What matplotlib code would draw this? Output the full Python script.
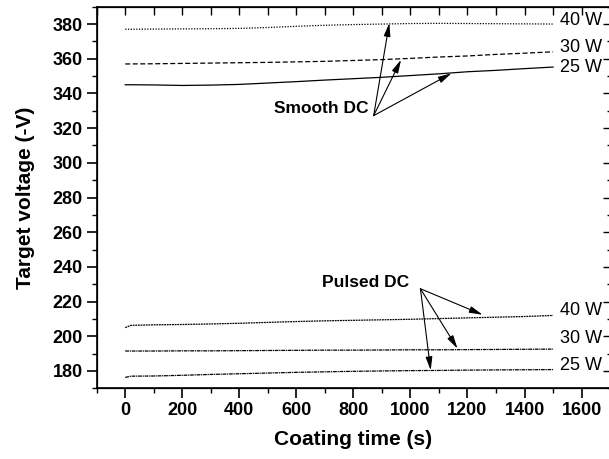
import matplotlib
matplotlib.use("Agg")
import matplotlib.pyplot as plt
from matplotlib.ticker import MultipleLocator

plt.rcParams['font.family'] = ['Liberation Sans', 'DejaVu Sans']

# coating time (s)
time = [0, 20, 100, 200, 300, 400, 500, 600, 700, 800, 900, 1000, 1100, 1200, 1300, 1400, 1500]

# smooth DC target voltage (-V)
smooth_40w = [377.0, 377.0, 377.1, 377.2, 377.3, 377.5, 378.0, 378.7, 379.3, 379.7, 380.0, 380.3, 380.4, 380.3, 380.2, 380.1, 380.0]
smooth_30w = [357.0, 357.0, 357.1, 357.3, 357.5, 357.7, 357.9, 358.2, 358.5, 359.0, 359.5, 360.2, 361.0, 361.6, 362.5, 363.2, 364.0]
smooth_25w = [345.0, 345.0, 344.9, 344.6, 344.8, 345.2, 346.0, 346.8, 347.7, 348.5, 349.3, 350.3, 351.3, 352.5, 353.3, 354.3, 355.2]

# pulsed DC target voltage (-V)
pulsed_40w = [205.0, 206.3, 206.6, 206.8, 207.1, 207.5, 208.0, 208.5, 208.9, 209.2, 209.5, 209.8, 210.2, 210.6, 211.0, 211.4, 212.0]
pulsed_30w = [191.5, 191.5, 191.5, 191.6, 191.6, 191.7, 191.8, 191.9, 192.0, 192.0, 192.1, 192.2, 192.2, 192.3, 192.4, 192.5, 192.6]
pulsed_25w = [176.3, 177.0, 177.1, 177.5, 178.0, 178.4, 178.8, 179.2, 179.5, 179.8, 180.0, 180.2, 180.3, 180.5, 180.6, 180.7, 180.8]

power_labels = ['40 W', '30 W', '25 W']

fig = plt.figure(figsize=(6.09, 4.59), dpi=100)
ax = fig.add_axes([0.1588, 0.154, 0.843, 0.8314])

lw = 0.9
ax.plot(time, smooth_40w, color='black', lw=lw, linestyle=(0, (1, 1.2)))
ax.plot(time, smooth_30w, color='black', lw=lw, linestyle=(0, (4, 2)))
ax.plot(time, smooth_25w, color='black', lw=lw, linestyle='-')
ax.plot(time, pulsed_40w, color='black', lw=lw, linestyle=(0, (1.5, 0.6)))
ax.plot(time, pulsed_30w, color='black', lw=lw, linestyle=(0, (3, 0.6, 1, 0.6)))
ax.plot(time, pulsed_25w, color='black', lw=lw, linestyle=(0, (3, 0.6, 1, 0.6)))

# power labels at line ends
for lab, y in zip(power_labels, [381.9, 366.6, 355.0]):
    ax.text(1525, y, lab, fontsize=13, va='center', ha='left')
for lab, y in zip(power_labels, [214.9, 198.6, 183.3]):
    ax.text(1525, y, lab, fontsize=13, va='center', ha='left')

# annotations
ax.text(853, 331.6, 'Smooth DC', fontsize=12.5, fontweight='bold', ha='right', va='center')
ax.text(995, 231.0, 'Pulsed DC', fontsize=12.5, fontweight='bold', ha='right', va='center')
arrow = dict(arrowstyle='-|>,head_length=0.8,head_width=0.2', color='black', lw=0.8, shrinkA=0, shrinkB=0)
for tip in [(926, 380.6), (967, 359.4), (1144, 351.6)]:
    ax.annotate('', xy=tip, xytext=(871, 327.2), arrowprops=arrow)
for tip in [(1253, 212.4), (1165, 192.9), (1071, 180.4)]:
    ax.annotate('', xy=tip, xytext=(1035, 227.4), arrowprops=arrow)

ax.set_xlim(-100, 1700)
ax.set_ylim(170, 390)
ax.xaxis.set_minor_locator(MultipleLocator(100))
ax.yaxis.set_minor_locator(MultipleLocator(10))
ax.set_xticks([0, 200, 400, 600, 800, 1000, 1200, 1400, 1600])
ax.set_yticks([180, 200, 220, 240, 260, 280, 300, 320, 340, 360, 380])
ax.tick_params(which='major', direction='out', length=7, width=1.2, labelsize=13, pad=3)
ax.tick_params(which='minor', direction='out', length=3.5, width=1.0)
for lbl in ax.get_xticklabels() + ax.get_yticklabels():
    lbl.set_fontweight('bold')
for sp in ax.spines.values():
    sp.set_linewidth(1.2)

ax.set_xlabel('Coating time (s)', fontsize=15, fontweight='bold', labelpad=8)
ax.set_ylabel('Target voltage (-V)', fontsize=15, fontweight='bold', labelpad=13)

# mirrored inward ticks on top and right
axt = ax.twiny()
axt.set_xlim(ax.get_xlim())
axt.xaxis.set_major_locator(MultipleLocator(200))
axt.xaxis.set_minor_locator(MultipleLocator(100))
axt.tick_params(which='both', direction='in', length=6, width=1.0, labeltop=False)
axr = ax.twinx()
axr.set_ylim(ax.get_ylim())
axr.yaxis.set_major_locator(MultipleLocator(20))
axr.yaxis.set_minor_locator(MultipleLocator(10))
axr.tick_params(which='major', direction='in', length=5, width=1.0, labelright=False)
axr.tick_params(which='minor', direction='in', length=2.5, width=1.0)

fig.savefig('out.png', dpi=100)
